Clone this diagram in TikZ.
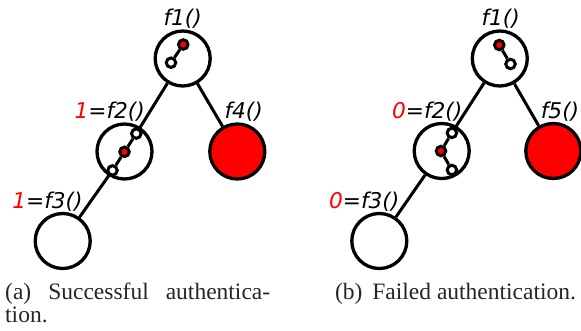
\documentclass[tikz,border=0pt]{standalone}
\usepackage{fontspec}
\setmainfont{Liberation Serif}
\newfontfamily\dvs{DejaVu Sans}
\begin{document}
\begin{tikzpicture}[x=1pt,y=-1pt,
  bigc/.style={circle,draw=black,line width=3.3pt,minimum size=55pt,inner sep=0pt,fill=white},
  bigred/.style={bigc,fill=red},
  smc/.style={circle,draw=black,line width=3pt,minimum size=9.5pt,inner sep=0pt,fill=white},
  smred/.style={smc,fill=red},
  edgeln/.style={line width=3pt},
  innerln/.style={line width=3pt},
  lab/.style={font=\dvs\itshape\fontsize{21.7}{26}\selectfont,anchor=base,inner sep=0pt},
  captxt/.style={font=\fontsize{23.5}{23.4}\selectfont,text=black!85,inner sep=0pt}]
\useasboundingbox (0,0) rectangle (581,330);
% ---- left panel (a)
\node[bigc] (L1) at (182.7,58.5) {};
\node[bigc] (L2) at (124.5,151.5) {};
\node[bigred] (L4) at (237.3,151.5) {};
\node[bigc] (L3) at (62.7,241) {};
\node[smred] (L1r) at (183.3,44.5) {};
\node[smc] (L1w) at (171,62.7) {};
\node[smc] (L2a) at (136.3,133.6) {};
\node[smred] (L2b) at (124.5,151.8) {};
\node[smc] (L2c) at (112.5,170.4) {};
\draw[innerln] (L1r) -- (L1w);
\draw[innerln] (L2a) -- (L2b);
\draw[innerln] (L2b) -- (L2c);
\draw[edgeln] (L1) -- (L2a);
\draw[edgeln] (L2c) -- (L3);
\draw[edgeln] (L1) -- (L4);
\node[lab] (tL1) at (182.7,25) {f1()};
\node[lab] (tL2) at (109.7,118.3) {\textcolor{red}{1}=f2()};
\node[lab] (tL4) at (243.7,118.3) {f4()};
\node[lab] (tL3) at (47.5,208.3) {\textcolor{red}{1}=f3()};
% ---- right panel (b)
\node[bigc] (R1) at (499.8,58.5) {};
\node[bigc] (R2) at (441.7,151) {};
\node[bigred] (R5) at (553.3,151) {};
\node[bigc] (R3) at (379.3,241) {};
\node[smred] (R1r) at (499.3,45) {};
\node[smc] (R1w) at (510.5,64) {};
\node[smc] (R2a) at (451.9,132.9) {};
\node[smred] (R2b) at (441,151) {};
\node[smc] (R2c) at (451.9,170) {};
\draw[innerln] (R1r) -- (R1w);
\draw[innerln] (R2a) -- (R2b);
\draw[innerln] (R2b) -- (R2c);
\draw[edgeln] (R1) -- (R2a);
\draw[edgeln] (R2) -- (R3);
\draw[edgeln] (R1) -- (R5);
\node[lab] (tR1) at (500.7,25) {f1()};
\node[lab] (tR2) at (427.2,118) {\textcolor{red}{0}=f2()};
\node[lab] (tR5) at (560,118) {f5()};
\node[lab] (tR3) at (364.2,208.3) {\textcolor{red}{0}=f3()};
% ---- captions
\node[captxt,anchor=base west] (capa1) at (5,299.3) {\makebox[265pt][s]{(a) Successful authentica-}};
\node[captxt,anchor=base west] (capa2) at (5,322.7) {tion.};
\node[captxt,anchor=base] (capb) at (455.5,299.3) {(b)\hspace{10pt}Failed authentication.};
\end{tikzpicture}
\end{document}
